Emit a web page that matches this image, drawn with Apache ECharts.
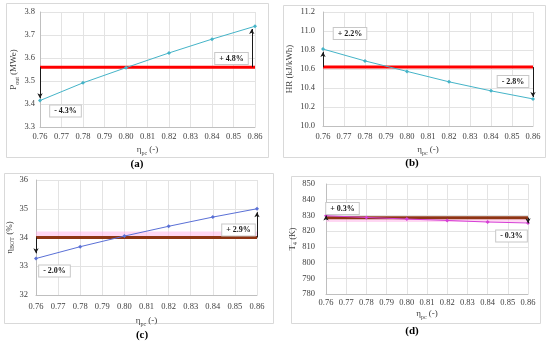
<!DOCTYPE html>
<html>
<head>
<meta charset="utf-8">
<script src="https://cdn.jsdelivr.net/npm/echarts@6/dist/echarts.min.js"></script>
<style>html,body{margin:0;padding:0;background:#fff;}#c{width:550px;height:346px;}</style>
</head>
<body>
<div id="c"></div>
<script>
// ---- data ----
const etaPc = [0.76, 0.78, 0.80, 0.82, 0.84, 0.86];
const pOut = [3.415, 3.492, 3.558, 3.622, 3.682, 3.738];
const heatRate = [10.81, 10.685, 10.575, 10.465, 10.37, 10.285];
const etaBot = [33.27, 33.68, 34.05, 34.39, 34.71, 35.0];
const t4 = [829.8, 828.7, 827.7, 826.8, 825.8, 825.2];
const refValues = [3.56, 10.62, 34.0, 828.6];
const bandValues = [null, null, 34.12, 827.4];
const arrowX = [[0.76, 0.8585], [0.76, 0.86], [0.76, 0.86], [0.76, 0.86]];
const arrowTips = [[3.425, 3.726], [10.78, 10.305], [33.45, 34.88], [829.9, 825.0]];
const annotations = [['- 4.3%', '+ 4.8%'], ['+ 2.2%', '- 2.8%'], ['- 2.0%', '+ 2.9%'], ['+ 0.3%', '- 0.3%']];
const panelLabels = ['(a)', '(b)', '(c)', '(d)'];
const xTickRange = [0.76, 0.86, 0.01];
const yTickRanges = [[3.3, 3.8, 0.1], [10.0, 11.2, 0.2], [32, 36, 1], [780, 850, 10]];
const yDecimals = [1, 1, 0, 0];
const seriesList = [pOut, heatRate, etaBot, t4];

// ---- layout / style ----
const FONT = '"Liberation Serif", "DejaVu Serif", serif';
const grids = [
  {left: 40, top: 12, width: 215, height: 115},
  {left: 323, top: 12, width: 210, height: 114},
  {left: 36, top: 180, width: 221, height: 115},
  {left: 326, top: 184, width: 202, height: 110}
];
const xLabelMargin = [5, 6, 7, 4];
const yLabelMargin = [5, 8, 8, 11];
const xNameGap = [17, 18, 20, 14];
const yNameGap = [20, 27, 19, 23];
const lineColors = ['#45b4c8', '#45b4c8', '#5a70d6', '#d63fd6'];
const refColors = ['#ff0000', '#ff0000', '#8e3514', '#8e3514'];
const yNames = [
  '{i|P}{s|out}{i| (MWe)}',
  '{i|HR (kJ/kWh)}',
  '{i|η}{s|BOT}{i| (%)}',
  '{i|T}{s|4}{i| (K)}'
];
const nameRich = {
  i: {fontFamily: FONT, fontSize: 9, color: '#404040', lineHeight: 12, verticalAlign: 'middle'},
  s: {fontFamily: FONT, fontSize: 6, color: '#404040', lineHeight: 12, verticalAlign: 'bottom'}
};
const frames = [
  {x: 6, y: 3, w: 262, h: 154},
  {x: 283, y: 5, w: 262, h: 152},
  {x: 4, y: 173, w: 269, h: 150},
  {x: 291, y: 176, w: 249, h: 147}
];
const boxCenters = [[[65.5, 111], [231.5, 58.5]], [[350, 33.5], [513, 81.5]], [[54.5, 271], [238.5, 230]], [[342.5, 208.5], [511.5, 236]]];
const labelPos = [[137, 164], [412, 163], [142, 335], [412, 331]];

const xAxes = [], yAxes = [], series = [], graphic = [];
for (let k = 0; k < 4; k++) {
  xAxes.push({
    type: 'value', gridIndex: k, min: xTickRange[0], max: xTickRange[1], interval: xTickRange[2],
    name: '{i|η}{s|pc}{i| (-)}', nameLocation: 'middle', nameGap: xNameGap[k],
    nameTextStyle: {rich: nameRich},
    axisLine: {show: true, lineStyle: {color: '#bfbfbf', width: 1}},
    axisTick: {show: false},
    axisLabel: {fontFamily: FONT, fontSize: 8.5, color: '#404040', margin: xLabelMargin[k],
      formatter: v => v.toFixed(2)},
    splitLine: {show: true, lineStyle: {color: '#e3e3e3', width: 1}}
  });
  yAxes.push({
    type: 'value', gridIndex: k, min: yTickRanges[k][0], max: yTickRanges[k][1], interval: yTickRanges[k][2],
    name: yNames[k], nameLocation: 'middle', nameGap: yNameGap[k], nameRotate: 90,
    nameTextStyle: {rich: nameRich},
    axisLine: {show: true, lineStyle: {color: '#bfbfbf', width: 1}},
    axisTick: {show: false},
    axisLabel: {fontFamily: FONT, fontSize: 8.5, color: '#404040', margin: yLabelMargin[k],
      formatter: v => v.toFixed(yDecimals[k])},
    splitLine: {show: true, lineStyle: {color: '#e3e3e3', width: 1}}
  });
  if (bandValues[k] !== null) {
    series.push({
      type: 'line', xAxisIndex: k, yAxisIndex: k, symbol: 'none', silent: true, z: 2,
      data: [[xTickRange[0], bandValues[k]], [xTickRange[1], bandValues[k]]],
      lineStyle: {color: 'rgba(255,175,232,0.5)', width: 5}
    });
  }
  series.push({
    type: 'line', xAxisIndex: k, yAxisIndex: k, symbol: 'none', silent: true, z: 3,
    data: [[xTickRange[0], refValues[k]], [xTickRange[1], refValues[k]]],
    lineStyle: {color: refColors[k], width: 3},
    markLine: {
      silent: true, symbol: ['none', 'arrow'], symbolSize: [4, 5], animation: false,
      label: {show: false},
      lineStyle: {color: '#1a1a1a', width: 1, type: 'solid'},
      data: [0, 1].map(j => [{coord: [arrowX[k][j], refValues[k]]}, {coord: [arrowX[k][j], arrowTips[k][j]]}])
    }
  });
  series.push({
    type: 'line', xAxisIndex: k, yAxisIndex: k, z: 4,
    data: etaPc.map((x, i) => [x, seriesList[k][i]]),
    symbol: 'diamond', symbolSize: 4, showSymbol: true,
    itemStyle: {color: lineColors[k]},
    lineStyle: {color: lineColors[k], width: 1}
  });
  graphic.push({
    type: 'rect', z: -1, silent: true,
    shape: {x: frames[k].x + 0.5, y: frames[k].y + 0.5, width: frames[k].w, height: frames[k].h},
    style: {fill: 'none', stroke: '#d9d9d9', lineWidth: 1}
  });
  for (let j = 0; j < 2; j++) {
    graphic.push({
      type: 'text', z: 100, silent: true,
      x: boxCenters[k][j][0], y: boxCenters[k][j][1],
      style: {
        text: annotations[k][j], fontFamily: FONT, fontSize: 8, fontWeight: 'bold', fill: '#1a1a1a',
        align: 'center', verticalAlign: 'middle',
        backgroundColor: '#ffffff', borderColor: '#c8c8c8', borderWidth: 1, padding: [2, 4, 1, 4]
      }
    });
  }
  graphic.push({
    type: 'text', silent: true, x: labelPos[k][0], y: labelPos[k][1],
    style: {text: panelLabels[k], fontFamily: FONT, fontSize: 11, fontWeight: 'bold', fill: '#000',
      align: 'center', verticalAlign: 'middle'}
  });
}

const chart = echarts.init(document.getElementById('c'), null, {renderer: 'canvas'});
chart.setOption({
  animation: false,
  backgroundColor: '#ffffff',
  grid: grids,
  xAxis: xAxes,
  yAxis: yAxes,
  series: series,
  graphic: graphic
});
</script>
</body>
</html>
